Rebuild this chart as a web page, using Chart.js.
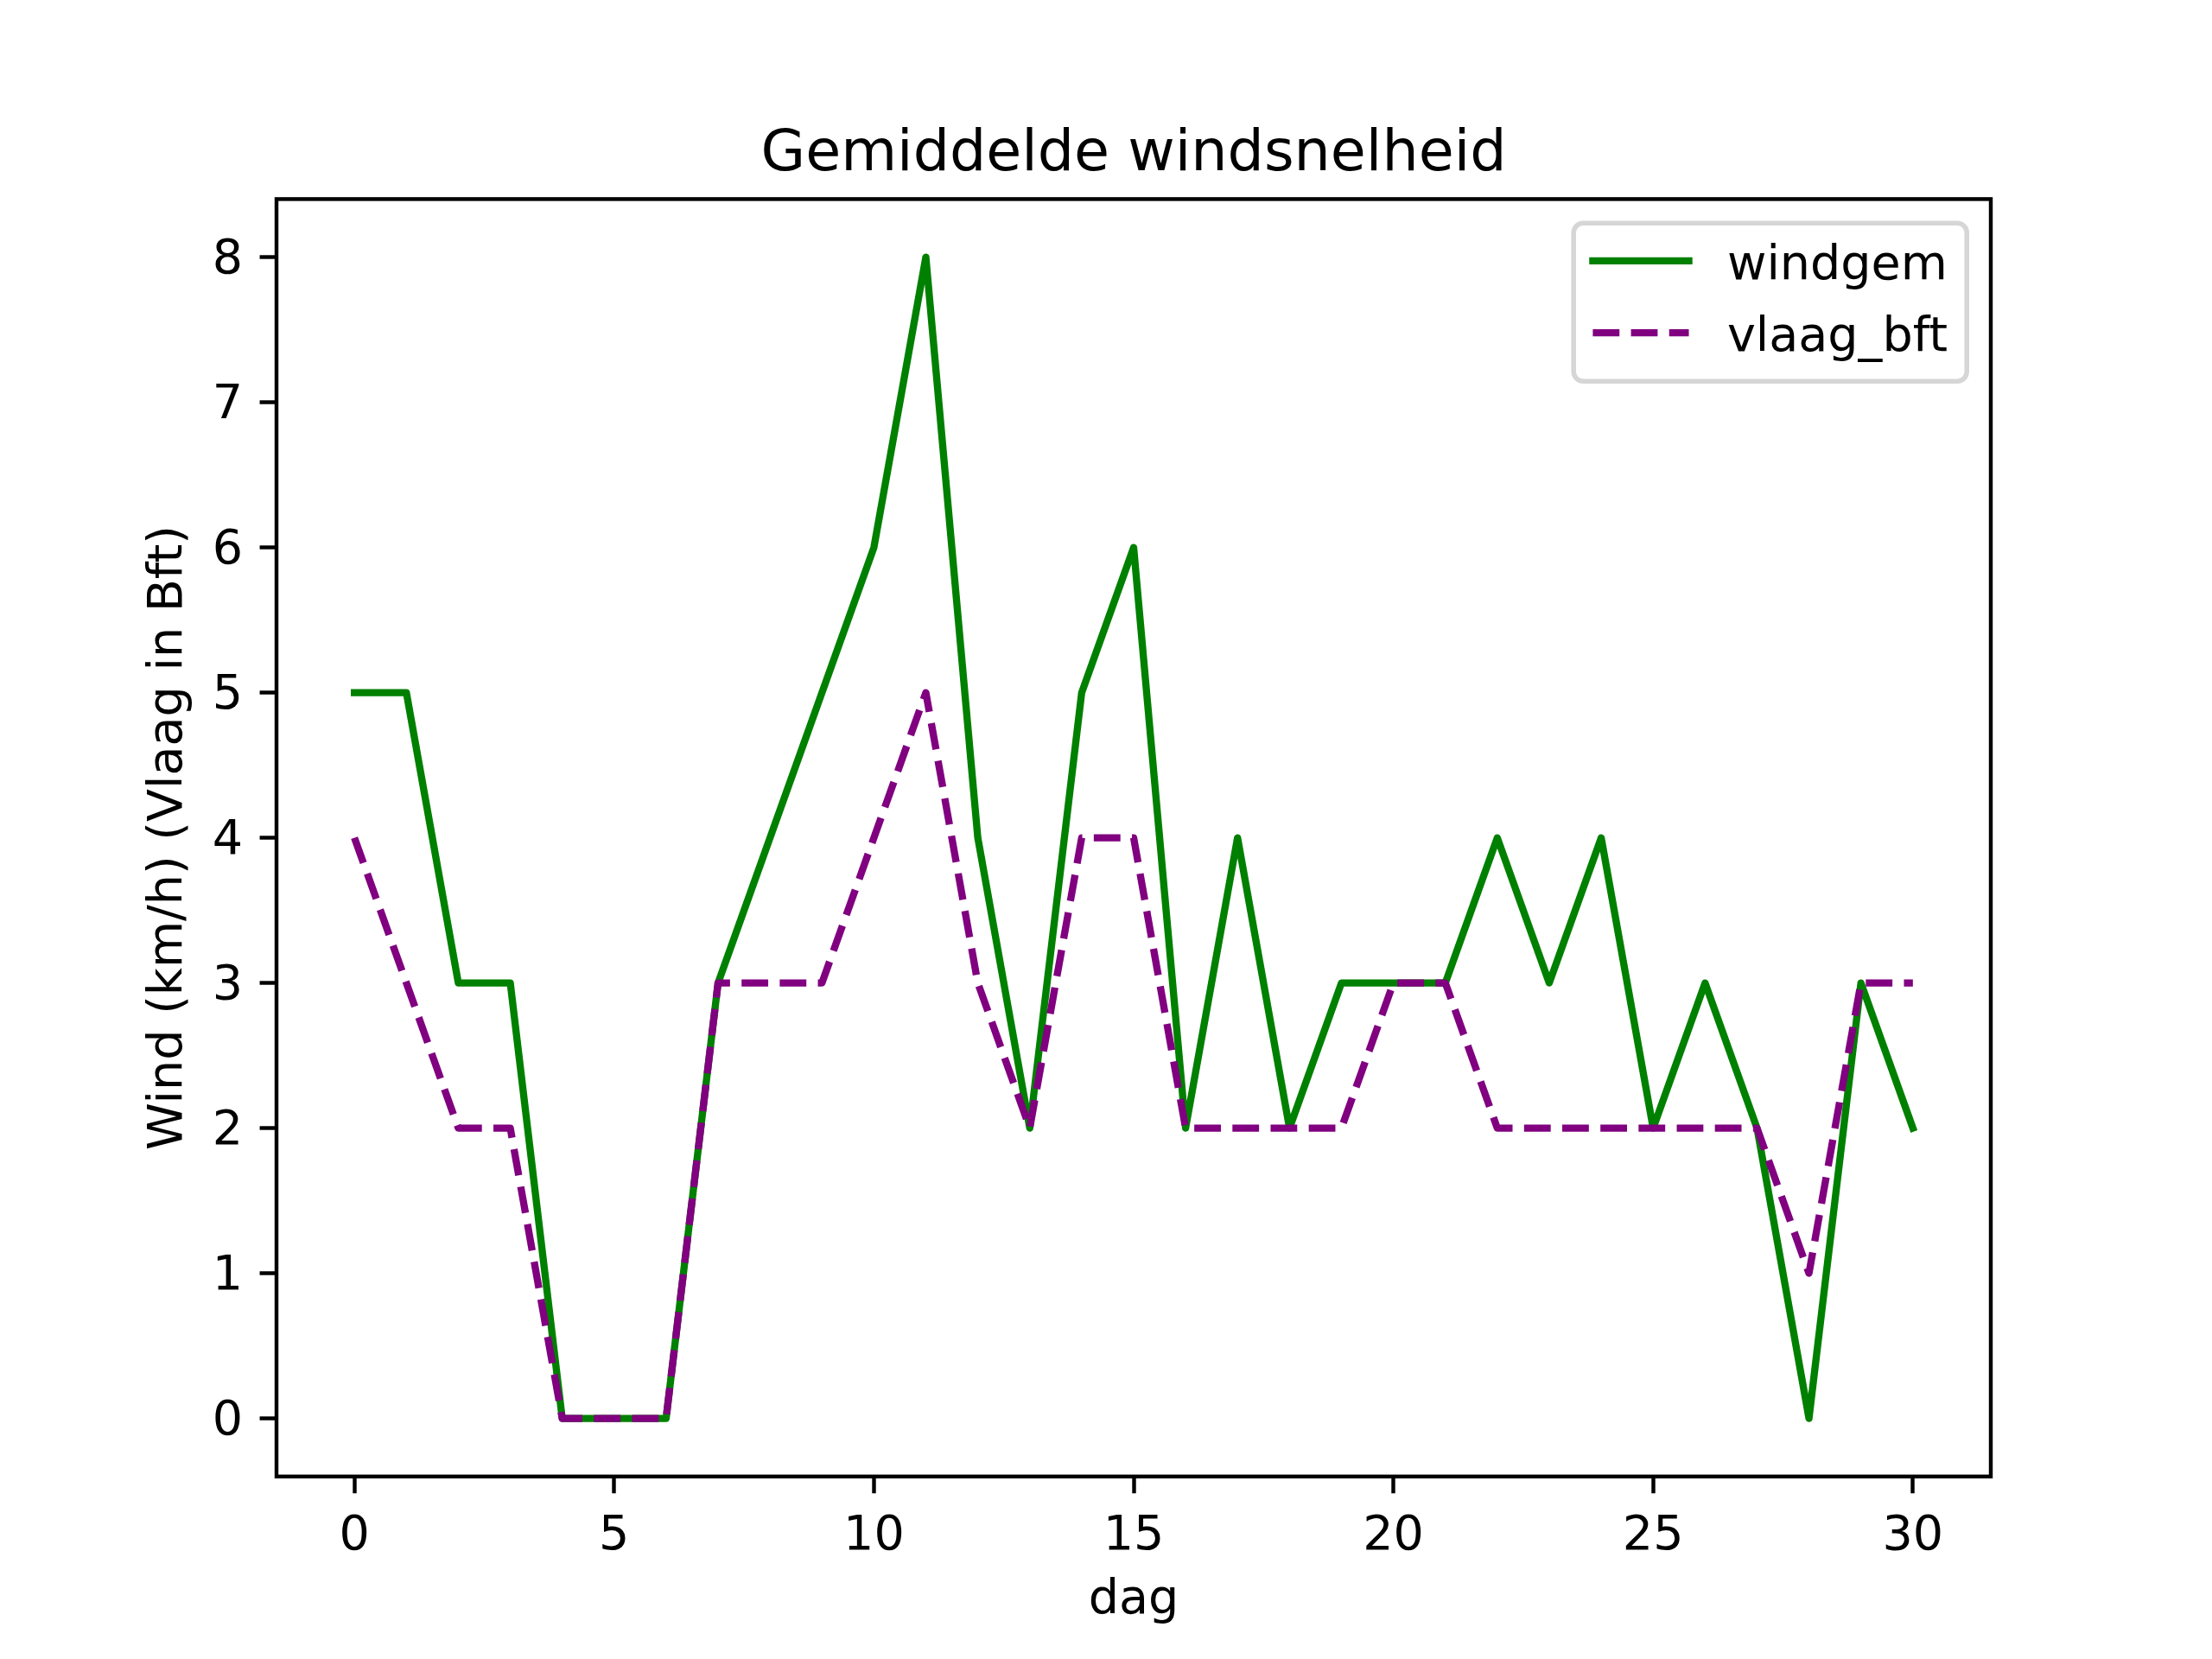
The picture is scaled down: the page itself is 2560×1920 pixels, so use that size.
<!DOCTYPE html>
<html>
<head>
<meta charset="utf-8">
<script src="https://cdn.jsdelivr.net/npm/chart.js@4/dist/chart.umd.min.js"></script>
<style>
  html, body { margin: 0; padding: 0; background: #fff; }
  canvas { display: block; }
</style>
</head>
<body>
<canvas id="c" width="2560" height="1920" style="width:2560px;height:1920px"></canvas>
<script>
// data
const days = [0, 1, 2, 3, 4, 5, 6, 7, 8, 9, 10, 11, 12, 13, 14, 15, 16, 17, 18, 19, 20, 21, 22, 23, 24, 25, 26, 27, 28, 29, 30];
const windgem = [5, 5, 3, 3, 0, 0, 0, 3, 4, 5, 6, 8, 4, 2, 5, 6, 2, 4, 2, 3, 3, 3, 4, 3, 4, 2, 3, 2, 0, 3, 2];
const vlaagBft = [4, 3, 2, 2, 0, 0, 0, 3, 3, 3, 4, 5, 3, 2, 4, 4, 2, 2, 2, 2, 3, 3, 2, 2, 2, 2, 2, 2, 1, 3, 3];
const xTicks = [0, 5, 10, 15, 20, 25, 30];
const yTicks = [0, 1, 2, 3, 4, 5, 6, 7, 8];

const titleText = 'Gemiddelde windsnelheid';
const xLabel = 'dag';
const yLabel = 'Wind (km/h) (Vlaag in Bft)';

// matplotlib at 400 dpi: 1pt = 400/72 px
const PT = 400 / 72;
const FONT = '"DejaVu Sans", sans-serif';

Chart.defaults.font.family = FONT;

const toPoints = (ys) => days.map((d, i) => ({ x: d, y: ys[i] }));

const framePlugin = {
  id: 'frame',
  afterDatasetsDraw(chart) {
    const ctx = chart.ctx;
    const a = chart.chartArea;
    ctx.save();

    // spines
    ctx.strokeStyle = '#000';
    ctx.lineWidth = 0.8 * PT;
    ctx.lineJoin = 'miter';
    ctx.strokeRect(a.left, a.top, a.right - a.left, a.bottom - a.top);

    // title and axis labels
    ctx.fillStyle = '#000';
    ctx.textAlign = 'center';
    ctx.textBaseline = 'alphabetic';
    ctx.font = (12 * PT) + 'px ' + FONT;
    ctx.fillText(titleText, (a.left + a.right) / 2, a.top - 33);
    ctx.font = (10 * PT) + 'px ' + FONT;
    ctx.fillText(xLabel, (a.left + a.right) / 2, a.bottom + 158);
    ctx.save();
    ctx.translate(a.left - 110, (a.top + a.bottom) / 2);
    ctx.rotate(-Math.PI / 2);
    ctx.fillText(yLabel, 0, 0);
    ctx.restore();

    // legend, upper right
    const fs = 10 * PT;
    ctx.font = fs + 'px ' + FONT;
    const sets = chart.data.datasets.slice().sort((p, q) => p.legendIndex - q.legendIndex);
    let textW = 0;
    sets.forEach(ds => { textW = Math.max(textW, ctx.measureText(ds.label).width); });
    const pad = 0.4 * fs, handleLen = 2.0 * fs, handlePad = 0.8 * fs, rowH = 55.4, spacing = 0.5 * fs;
    const w = 2 * pad + handleLen + handlePad + textW;
    const h = 2 * pad + sets.length * rowH + (sets.length - 1) * spacing;
    const right = a.right - 0.5 * fs;
    const top = a.top + 0.5 * fs;
    const left = right - w;
    const r = 0.2 * fs;
    ctx.beginPath();
    ctx.roundRect(left, top, w, h, r);
    ctx.fillStyle = 'rgba(255,255,255,0.8)';
    ctx.fill();
    ctx.lineWidth = 1.0 * PT;
    ctx.strokeStyle = 'rgba(204,204,204,0.8)';
    ctx.stroke();

    sets.forEach((ds, i) => {
      const rowTop = top + pad + i * (rowH + spacing);
      const ly = rowTop + 21.5;
      ctx.beginPath();
      ctx.setLineDash(ds.borderDash || []);
      ctx.lineCap = ds.borderCapStyle;
      ctx.lineWidth = ds.borderWidth;
      ctx.strokeStyle = ds.borderColor;
      ctx.moveTo(left + pad, ly);
      ctx.lineTo(left + pad + handleLen, ly);
      ctx.stroke();
      ctx.setLineDash([]);
      ctx.fillStyle = '#000';
      ctx.textAlign = 'left';
      ctx.textBaseline = 'alphabetic';
      ctx.fillText(ds.label, left + pad + handleLen + handlePad, rowTop + 42.5);
    });
    ctx.restore();
  }
};

const axisGrid = {
  display: true,
  drawOnChartArea: false,
  drawTicks: true,
  tickLength: 3.5 * PT,
  tickWidth: 0.8 * PT,
  color: '#000'
};

new Chart(document.getElementById('c').getContext('2d'), {
  type: 'line',
  data: {
    datasets: [
      {
        label: 'windgem',
        legendIndex: 0,
        order: 1,
        data: toPoints(windgem),
        borderColor: '#008000',
        borderWidth: 1.5 * PT,
        borderJoinStyle: 'round',
        borderCapStyle: 'square',
        pointRadius: 0,
        tension: 0,
        fill: false
      },
      {
        label: 'vlaag_bft',
        legendIndex: 1,
        order: 0,
        data: toPoints(vlaagBft),
        borderColor: '#800080',
        borderWidth: 1.5 * PT,
        borderDash: [3.7 * 1.5 * PT, 1.6 * 1.5 * PT],
        borderJoinStyle: 'round',
        borderCapStyle: 'butt',
        pointRadius: 0,
        tension: 0,
        fill: false
      }
    ]
  },
  options: {
    responsive: false,
    devicePixelRatio: 1,
    animation: false,
    events: [],
    layout: { padding: { left: 0, top: 230.4, right: 256, bottom: 0 } },
    plugins: {
      legend: { display: false },
      title: { display: false },
      tooltip: { enabled: false }
    },
    scales: {
      x: {
        type: 'linear',
        min: -1.5,
        max: 31.5,
        afterBuildTicks: (s) => { s.ticks = xTicks.map(v => ({ value: v })); },
        afterFit: (s) => { s.height = 1920 - 1708.8; },
        grid: axisGrid,
        border: { display: false },
        ticks: {
          color: '#000',
          font: { size: 10 * PT },
          padding: 17,
          maxRotation: 0,
          autoSkip: false,
          callback: (v) => String(v)
        }
      },
      y: {
        type: 'linear',
        min: -0.4,
        max: 8.4,
        afterBuildTicks: (s) => { s.ticks = yTicks.map(v => ({ value: v })); },
        afterFit: (s) => { s.width = 320; },
        grid: axisGrid,
        border: { display: false },
        ticks: {
          color: '#000',
          font: { size: 10 * PT },
          padding: 3.5 * PT,
          labelOffset: 4,
          autoSkip: false,
          callback: (v) => String(v)
        }
      }
    }
  },
  plugins: [framePlugin]
});
</script>
</body>
</html>
